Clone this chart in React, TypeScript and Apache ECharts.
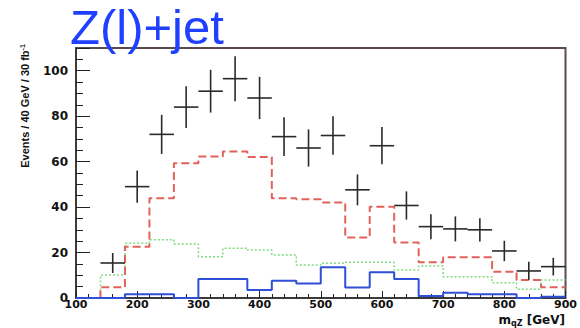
import React, { useEffect, useRef } from "react";
import * as echarts from "echarts";

// Bin edges (lower edge of each 40 GeV bin) for the MC histograms
const binLow = [140, 180, 220, 260, 300, 340, 380, 420, 460, 500, 540, 580, 620, 660, 700, 740, 780, 820, 860];
const binUpperEnd = 900;
const binHalfWidth = 20;

// Signal + background (red dashed)
const redTotal = [4.7, 22.6, 43.9, 59.3, 62.3, 64.5, 62, 43.9, 43.4, 42, 26.6, 40.2, 24.4, 15.7, 17.9, 17.9, 11.6, 7.9, 4.7];
// Background (green dotted)
const greenBkg = [10.1, 24.1, 25.6, 23.8, 18.2, 21.9, 21.1, 18.9, 14.5, 15.3, 15.7, 15.7, 12.3, 14.1, 9.4, 9.4, 6.7, 3.8, 7.9];
// Other (blue solid)
const blueOther = [0, 1.6, 1.6, 0, 8.4, 8.4, 3.5, 7.6, 6.4, 13.5, 4.6, 11.3, 8.4, 0.9, 2.3, 1.6, 1.6, 0, 0.6];

// Pseudo-data points with error bars
const dataX = [160, 200, 240, 280, 320, 360, 400, 440, 480, 520, 560, 600, 640, 680, 720, 760, 800, 840, 880];
const dataY = [15.4, 49, 72, 84, 91, 96.5, 88, 71, 66, 71.5, 47.6, 67, 40.7, 31.4, 30.4, 30, 20.7, 11.9, 13.8];
const dataErr = [4.4, 7.1, 8.6, 9.2, 9.4, 9.9, 9.3, 8.5, 8.2, 8.5, 6.8, 8.2, 6.2, 5.5, 5.5, 5.1, 4.5, 4.0, 3.9];

const xTicks = { min: 100, max: 900, interval: 100 };
const yTicks = { min: 0, max: 110, interval: 20 };

function histPoints(vals: number[]) {
  const pts: number[][] = [[xTicks.min, 0]];
  vals.forEach((v, i) => pts.push([binLow[i], v]));
  pts.push([binUpperEnd, vals[vals.length - 1]]);
  return pts;
}

const labelFont = "'DejaVu Sans', sans-serif";

export default function App() {
  const ref = useRef<HTMLDivElement>(null);
  useEffect(() => {
    if (!ref.current) return;
    const chart = echarts.init(ref.current, null, { renderer: "svg" });
    const frame = "#5a4c4c";
    chart.setOption({
      animation: false,
      backgroundColor: "#ffffff",
      grid: {
        left: 76,
        right: 13,
        top: 48,
        bottom: 30,
        show: true,
        borderColor: frame,
        borderWidth: 2,
        backgroundColor: "transparent",
      },
      xAxis: {
        type: "value",
        min: xTicks.min,
        max: xTicks.max,
        interval: xTicks.interval,
        axisLine: { show: true, lineStyle: { color: "#333", width: 1.5 } },
        axisTick: { show: true, inside: true, length: 7, lineStyle: { color: "#222", width: 1 } },
        minorTick: { show: true, splitNumber: 5, length: 4, lineStyle: { color: "#222", width: 1 } },
        splitLine: { show: false },
        axisLabel: {
          color: "#111",
          fontFamily: labelFont,
          fontWeight: "bold",
          fontSize: 11,
          margin: 1,
        },
      },
      yAxis: {
        type: "value",
        min: yTicks.min,
        max: yTicks.max,
        interval: yTicks.interval,
        axisLine: { show: true, lineStyle: { color: "#333", width: 1.5 } },
        axisTick: { show: true, inside: true, length: 14, lineStyle: { color: "#222", width: 1 } },
        minorTick: { show: true, splitNumber: 4, length: 7, lineStyle: { color: "#222", width: 1 } },
        splitLine: { show: false },
        axisLabel: {
          color: "#111",
          fontFamily: labelFont,
          fontWeight: "bold",
          fontSize: 12,
          margin: 8,
          showMaxLabel: false,
        },
      },
      graphic: [
        {
          type: "text",
          x: 70,
          y: 27,
          style: {
            text: "Z(l)+jet",
            fill: "#1f40ff",
            font: "49px 'Liberation Sans', Arial, sans-serif",
            textAlign: "left",
            textVerticalAlign: "middle",
          },
          z: 100,
        },
        {
          type: "text",
          x: 25,
          y: 106,
          rotation: Math.PI / 2,
          style: {
            text: "Events / 40 GeV / 30 fb{sup|-1}",
            fill: "#111",
            font: "bold 11px 'Liberation Sans', Arial, sans-serif",
            textAlign: "center",
            textVerticalAlign: "middle",
            rich: {
              sup: {
                font: "bold 7px 'Liberation Sans', Arial, sans-serif",
                verticalAlign: "top",
                padding: [0, 0, 6, 0],
              },
            },
          },
        },
        {
          type: "text",
          x: 565,
          y: 320,
          style: {
            text: "m{sub|qZ} [GeV]",
            fill: "#111",
            font: "bold 12px " + labelFont,
            textAlign: "right",
            textVerticalAlign: "middle",
            rich: {
              sub: {
                font: "bold 8px " + labelFont,
                padding: [6, 0, 0, 0],
              },
            },
          },
        },
      ],
      series: [
        {
          type: "line",
          step: "end",
          data: histPoints(greenBkg),
          symbol: "none",
          lineStyle: { color: "#7fdc7f", width: 1.5, type: [2, 2] },
          z: 2,
        },
        {
          type: "line",
          step: "end",
          data: histPoints(redTotal),
          symbol: "none",
          lineStyle: { color: "#e2625a", width: 2, type: [8, 4] },
          z: 3,
        },
        {
          type: "line",
          step: "end",
          data: histPoints(blueOther),
          symbol: "none",
          lineStyle: { color: "#2f4fd6", width: 2 },
          z: 4,
        },
        {
          type: "custom",
          data: dataX.map((x, i) => [x, dataY[i], dataErr[i]]),
          renderItem: (params: any, api: any) => {
            const x = api.value(0);
            const y = api.value(1);
            const e = api.value(2);
            const l = api.coord([x - binHalfWidth, y]);
            const r = api.coord([x + binHalfWidth, y]);
            const t = api.coord([x, y + e]);
            const b = api.coord([x, y - e]);
            const st = { stroke: "#2a2a2a", lineWidth: 1.6 };
            return {
              type: "group",
              children: [
                { type: "line", shape: { x1: l[0], y1: l[1], x2: r[0], y2: r[1] }, style: st },
                { type: "line", shape: { x1: t[0], y1: t[1], x2: b[0], y2: b[1] }, style: st },
              ],
            };
          },
          z: 10,
        },
      ],
    });
    return () => chart.dispose();
  }, []);
  return <div ref={ref} style={{ width: 580, height: 328, position: "absolute", left: 0, top: 0 }} />;
}
